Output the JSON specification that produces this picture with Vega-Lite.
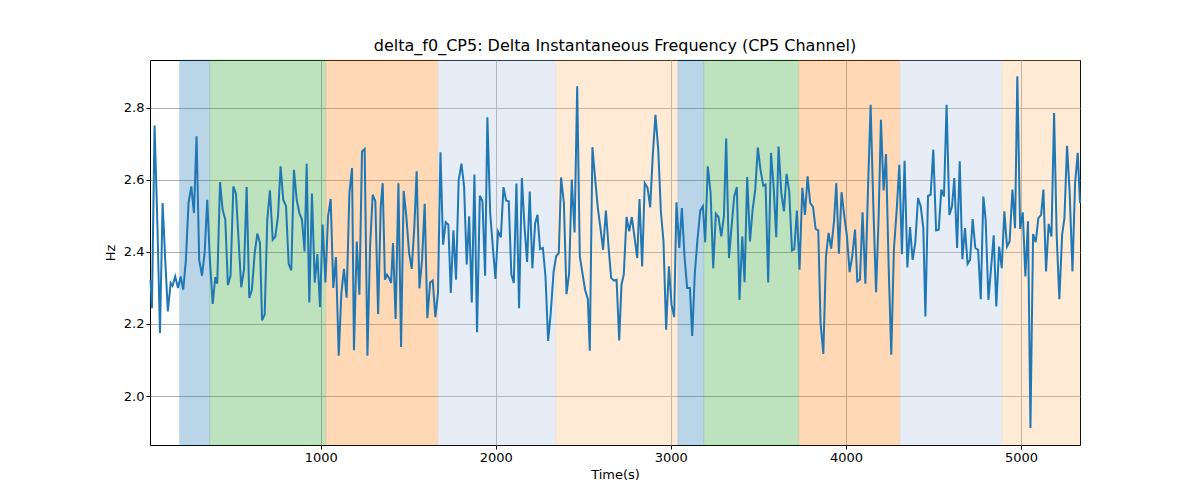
{
  "$schema": "https://vega.github.io/schema/vega-lite/v6.json",
  "width": 930,
  "height": 385,
  "autosize": "none",
  "padding": {"left": 150, "top": 60, "right": 120, "bottom": 55},
  "background": "white",
  "title": {"text": "delta_f0_CP5: Delta Instantaneous Frequency (CP5 Channel)", "font": "DejaVu Sans", "fontSize": 16, "fontWeight": "normal", "color": "black", "offset": 6},
  "datasets": {
    "bands": [
      {"start": 194, "end": 366, "phase": "a"},
      {"start": 366, "end": 1029, "phase": "b"},
      {"start": 1029, "end": 1669, "phase": "c"},
      {"start": 1669, "end": 2343, "phase": "d"},
      {"start": 2343, "end": 3040, "phase": "e"},
      {"start": 3040, "end": 3188, "phase": "a"},
      {"start": 3188, "end": 3731, "phase": "b"},
      {"start": 3731, "end": 4308, "phase": "c"},
      {"start": 4308, "end": 4891, "phase": "d"},
      {"start": 4891, "end": 5337, "phase": "e"}
    ],
    "series": [
      {"t":28,"hz":2.323},{"t":36,"hz":2.244},{"t":51,"hz":2.751},{"t":66,"hz":2.499},{"t":82,"hz":2.175},{"t":97,"hz":2.536},{"t":112,"hz":2.378},{"t":127,"hz":2.235},{"t":143,"hz":2.314},{"t":154,"hz":2.306},{"t":169,"hz":2.332},{"t":185,"hz":2.3},{"t":200,"hz":2.332},{"t":215,"hz":2.295},{"t":230,"hz":2.378},{"t":245,"hz":2.536},{"t":261,"hz":2.582},{"t":276,"hz":2.508},{"t":291,"hz":2.721},{"t":306,"hz":2.378},{"t":322,"hz":2.334},{"t":337,"hz":2.397},{"t":352,"hz":2.545},{"t":367,"hz":2.378},{"t":383,"hz":2.256},{"t":398,"hz":2.33},{"t":409,"hz":2.312},{"t":425,"hz":2.594},{"t":440,"hz":2.517},{"t":455,"hz":2.49},{"t":470,"hz":2.308},{"t":485,"hz":2.334},{"t":501,"hz":2.582},{"t":516,"hz":2.562},{"t":531,"hz":2.434},{"t":546,"hz":2.302},{"t":562,"hz":2.351},{"t":577,"hz":2.58},{"t":592,"hz":2.272},{"t":607,"hz":2.295},{"t":623,"hz":2.397},{"t":638,"hz":2.451},{"t":653,"hz":2.425},{"t":665,"hz":2.21},{"t":680,"hz":2.226},{"t":695,"hz":2.49},{"t":710,"hz":2.571},{"t":726,"hz":2.434},{"t":741,"hz":2.443},{"t":756,"hz":2.499},{"t":771,"hz":2.638},{"t":786,"hz":2.545},{"t":802,"hz":2.527},{"t":817,"hz":2.367},{"t":832,"hz":2.349},{"t":847,"hz":2.628},{"t":863,"hz":2.545},{"t":878,"hz":2.508},{"t":893,"hz":2.49},{"t":908,"hz":2.401},{"t":920,"hz":2.645},{"t":935,"hz":2.26},{"t":950,"hz":2.562},{"t":966,"hz":2.315},{"t":981,"hz":2.394},{"t":996,"hz":2.247},{"t":1011,"hz":2.476},{"t":1027,"hz":2.315},{"t":1042,"hz":2.499},{"t":1057,"hz":2.547},{"t":1072,"hz":2.3},{"t":1087,"hz":2.386},{"t":1103,"hz":2.112},{"t":1118,"hz":2.286},{"t":1133,"hz":2.353},{"t":1148,"hz":2.273},{"t":1164,"hz":2.564},{"t":1179,"hz":2.633},{"t":1190,"hz":2.127},{"t":1206,"hz":2.429},{"t":1221,"hz":2.281},{"t":1236,"hz":2.679},{"t":1251,"hz":2.686},{"t":1267,"hz":2.112},{"t":1282,"hz":2.415},{"t":1297,"hz":2.559},{"t":1312,"hz":2.541},{"t":1328,"hz":2.228},{"t":1343,"hz":2.527},{"t":1354,"hz":2.591},
      {"t":1367,"hz":2.323},{"t":1379,"hz":2.337},{"t":1390,"hz":2.328},{"t":1402,"hz":2.314},{"t":1413,"hz":2.425},{"t":1428,"hz":2.214},{"t":1444,"hz":2.591},{"t":1459,"hz":2.136},{"t":1474,"hz":2.57},{"t":1489,"hz":2.499},{"t":1505,"hz":2.397},{"t":1520,"hz":2.353},{"t":1535,"hz":2.471},{"t":1548,"hz":2.624},{"t":1564,"hz":2.299},{"t":1579,"hz":2.378},{"t":1594,"hz":2.534},{"t":1609,"hz":2.216},{"t":1625,"hz":2.315},{"t":1640,"hz":2.321},{"t":1655,"hz":2.219},{"t":1670,"hz":2.286},{"t":1684,"hz":2.677},{"t":1699,"hz":2.42},{"t":1714,"hz":2.483},{"t":1729,"hz":2.476},{"t":1743,"hz":2.286},{"t":1758,"hz":2.46},{"t":1773,"hz":2.323},{"t":1788,"hz":2.599},{"t":1804,"hz":2.645},{"t":1819,"hz":2.582},{"t":1834,"hz":2.365},{"t":1848,"hz":2.499},{"t":1863,"hz":2.26},{"t":1878,"hz":2.615},{"t":1893,"hz":2.177},{"t":1909,"hz":2.556},{"t":1924,"hz":2.541},{"t":1939,"hz":2.334},{"t":1952,"hz":2.774},{"t":1968,"hz":2.508},{"t":1983,"hz":2.415},{"t":1998,"hz":2.325},{"t":2013,"hz":2.457},{"t":2029,"hz":2.441},{"t":2044,"hz":2.58},{"t":2059,"hz":2.543},{"t":2074,"hz":2.541},{"t":2089,"hz":2.337},{"t":2103,"hz":2.314},{"t":2118,"hz":2.59},{"t":2133,"hz":2.244},{"t":2149,"hz":2.605},{"t":2164,"hz":2.471},{"t":2179,"hz":2.372},{"t":2194,"hz":2.568},{"t":2209,"hz":2.355},{"t":2225,"hz":2.48},{"t":2238,"hz":2.503},{"t":2253,"hz":2.408},{"t":2269,"hz":2.411},{"t":2284,"hz":2.332},{"t":2299,"hz":2.153},{"t":2314,"hz":2.23},{"t":2330,"hz":2.344},{"t":2345,"hz":2.388},{"t":2360,"hz":2.397},{"t":2373,"hz":2.607},{"t":2389,"hz":2.536},{"t":2404,"hz":2.283},{"t":2419,"hz":2.341},{"t":2434,"hz":2.601},{"t":2450,"hz":2.454},{"t":2465,"hz":2.86},{"t":2480,"hz":2.388},{"t":2495,"hz":2.341},{"t":2510,"hz":2.295},{"t":2526,"hz":2.269},{"t":2537,"hz":2.126},{"t":2552,"hz":2.691},{"t":2568,"hz":2.601},{"t":2583,"hz":2.522},{"t":2598,"hz":2.466},{"t":2613,"hz":2.406},{"t":2629,"hz":2.515},{"t":2644,"hz":2.415},{"t":2659,"hz":2.328},{"t":2674,"hz":2.321},{"t":2690,"hz":2.323},{"t":2705,"hz":2.154},
      {"t":2718,"hz":2.309},{"t":2731,"hz":2.337},{"t":2747,"hz":2.497},{"t":2762,"hz":2.457},{"t":2777,"hz":2.497},{"t":2792,"hz":2.443},{"t":2808,"hz":2.383},{"t":2821,"hz":2.547},{"t":2836,"hz":2.36},{"t":2851,"hz":2.591},{"t":2867,"hz":2.578},{"t":2882,"hz":2.524},{"t":2897,"hz":2.67},{"t":2912,"hz":2.781},{"t":2928,"hz":2.684},{"t":2943,"hz":2.513},{"t":2958,"hz":2.429},{"t":2973,"hz":2.184},{"t":2989,"hz":2.36},{"t":3004,"hz":2.253},{"t":3019,"hz":2.219},{"t":3032,"hz":2.538},{"t":3048,"hz":2.411},{"t":3063,"hz":2.522},{"t":3078,"hz":2.388},{"t":3093,"hz":2.3},{"t":3109,"hz":2.3},{"t":3122,"hz":2.167},{"t":3137,"hz":2.341},{"t":3152,"hz":2.434},{"t":3168,"hz":2.515},{"t":3183,"hz":2.527},{"t":3196,"hz":2.427},{"t":3211,"hz":2.638},{"t":3227,"hz":2.564},{"t":3242,"hz":2.355},{"t":3257,"hz":2.506},{"t":3272,"hz":2.497},{"t":3288,"hz":2.443},{"t":3303,"hz":2.499},{"t":3316,"hz":2.715},{"t":3332,"hz":2.383},{"t":3347,"hz":2.471},{"t":3362,"hz":2.554},{"t":3377,"hz":2.58},{"t":3392,"hz":2.267},{"t":3408,"hz":2.443},{"t":3421,"hz":2.316},{"t":3436,"hz":2.608},{"t":3452,"hz":2.429},{"t":3467,"hz":2.517},{"t":3482,"hz":2.573},{"t":3497,"hz":2.69},{"t":3512,"hz":2.628},{"t":3528,"hz":2.584},{"t":3541,"hz":2.587},{"t":3556,"hz":2.315},{"t":3572,"hz":2.675},{"t":3587,"hz":2.582},{"t":3602,"hz":2.441},{"t":3615,"hz":2.693},{"t":3631,"hz":2.564},{"t":3646,"hz":2.513},{"t":3661,"hz":2.617},{"t":3676,"hz":2.568},{"t":3692,"hz":2.404},{"t":3705,"hz":2.408},{"t":3720,"hz":2.515},{"t":3735,"hz":2.351},{"t":3751,"hz":2.578},{"t":3766,"hz":2.503},{"t":3781,"hz":2.61},{"t":3796,"hz":2.536},{"t":3812,"hz":2.525},{"t":3827,"hz":2.464},{"t":3842,"hz":2.46},{"t":3855,"hz":2.203},{"t":3871,"hz":2.117},{"t":3886,"hz":2.388},{"t":3901,"hz":2.453},{"t":3916,"hz":2.409},{"t":3932,"hz":2.485},{"t":3945,"hz":2.591},{"t":3960,"hz":2.395},{"t":3975,"hz":2.566},{"t":3991,"hz":2.499},{"t":4006,"hz":2.443},{"t":4021,"hz":2.344},{"t":4036,"hz":2.388},{"t":4052,"hz":2.462},
      {"t":4065,"hz":2.318},{"t":4080,"hz":2.323},{"t":4095,"hz":2.51},{"t":4111,"hz":2.312},{"t":4126,"hz":2.573},{"t":4141,"hz":2.809},{"t":4156,"hz":2.536},{"t":4172,"hz":2.288},{"t":4187,"hz":2.499},{"t":4200,"hz":2.767},{"t":4215,"hz":2.571},{"t":4229,"hz":2.672},{"t":4244,"hz":2.36},{"t":4259,"hz":2.115},{"t":4274,"hz":2.406},{"t":4290,"hz":2.517},{"t":4305,"hz":2.642},{"t":4320,"hz":2.394},{"t":4335,"hz":2.653},{"t":4351,"hz":2.357},{"t":4366,"hz":2.469},{"t":4381,"hz":2.378},{"t":4396,"hz":2.425},{"t":4412,"hz":2.55},{"t":4427,"hz":2.527},{"t":4442,"hz":2.466},{"t":4454,"hz":2.221},{"t":4469,"hz":2.556},{"t":4484,"hz":2.559},{"t":4499,"hz":2.684},{"t":4515,"hz":2.46},{"t":4530,"hz":2.462},{"t":4545,"hz":2.573},{"t":4560,"hz":2.554},{"t":4575,"hz":2.809},{"t":4591,"hz":2.503},{"t":4606,"hz":2.527},{"t":4619,"hz":2.605},{"t":4635,"hz":2.411},{"t":4650,"hz":2.652},{"t":4665,"hz":2.38},{"t":4680,"hz":2.466},{"t":4695,"hz":2.367},{"t":4709,"hz":2.378},{"t":4724,"hz":2.491},{"t":4739,"hz":2.411},{"t":4755,"hz":2.406},{"t":4770,"hz":2.269},{"t":4785,"hz":2.554},{"t":4798,"hz":2.49},{"t":4814,"hz":2.267},{"t":4829,"hz":2.355},{"t":4844,"hz":2.446},{"t":4859,"hz":2.249},{"t":4875,"hz":2.415},{"t":4890,"hz":2.355},{"t":4905,"hz":2.513},{"t":4920,"hz":2.415},{"t":4935,"hz":2.429},{"t":4951,"hz":2.573},{"t":4966,"hz":2.466},{"t":4979,"hz":2.888},{"t":4995,"hz":2.464},{"t":5010,"hz":2.51},{"t":5025,"hz":2.332},{"t":5040,"hz":2.485},{"t":5054,"hz":1.911},{"t":5069,"hz":2.45},{"t":5084,"hz":2.427},{"t":5099,"hz":2.494},{"t":5115,"hz":2.503},{"t":5128,"hz":2.573},{"t":5143,"hz":2.346},{"t":5158,"hz":2.478},{"t":5174,"hz":2.443},{"t":5189,"hz":2.786},{"t":5204,"hz":2.443},{"t":5219,"hz":2.269},{"t":5235,"hz":2.448},{"t":5248,"hz":2.494},{"t":5263,"hz":2.695},{"t":5278,"hz":2.564},{"t":5294,"hz":2.346},{"t":5309,"hz":2.591},{"t":5324,"hz":2.675},{"t":5337,"hz":2.536}
    ]
  },
  "layer": [
    {
      "data": {"name": "bands"},
      "mark": {"type": "rect", "opacity": 0.3, "strokeWidth": 1, "strokeOpacity": 0.6},
      "encoding": {
        "x": {"field": "start", "type": "quantitative"},
        "x2": {"field": "end"},
        "color": {"field": "phase", "type": "nominal", "legend": null,
          "scale": {"domain": ["a", "b", "c", "d", "e"], "range": ["#1f77b4", "#2ca02c", "#ff7f0e", "#aec7e8", "#ffbb78"]}},
        "stroke": {"field": "phase", "type": "nominal", "legend": null,
          "scale": {"domain": ["a", "b", "c", "d", "e"], "range": ["#1f77b4", "#2ca02c", "#ff7f0e", "#aec7e8", "#ffbb78"]}}
      }
    },
    {
      "data": {"name": "series"},
      "mark": {"type": "line", "color": "#1f77b4", "strokeWidth": 2},
      "encoding": {
        "x": {"field": "t", "type": "quantitative", "title": "Time(s)",
          "scale": {"domain": [25, 5337], "nice": false, "zero": false},
          "axis": {"values": [1000, 2000, 3000, 4000, 5000], "format": "d"}},
        "y": {"field": "hz", "type": "quantitative", "title": "Hz",
          "scale": {"domain": [1.864, 2.933], "nice": false, "zero": false},
          "axis": {"values": [2.0, 2.2, 2.4, 2.6, 2.8], "format": ".1f"}}
      }
    }
  ],
  "config": {
    "font": "DejaVu Sans",
    "view": {"stroke": "black", "strokeWidth": 1},
    "axis": {
      "grid": true, "gridColor": "#b0b0b0", "gridWidth": 1, "zindex": 1,
      "domain": false, "tickColor": "black", "tickSize": 4,
      "labelFont": "DejaVu Sans", "labelFontSize": 13, "labelColor": "black",
      "titleFont": "DejaVu Sans", "titleFontSize": 13, "titleFontWeight": "normal", "titleColor": "black"
    },
    "axisX": {"titlePadding": 4},
    "axisY": {"titlePadding": 6}
  }
}
